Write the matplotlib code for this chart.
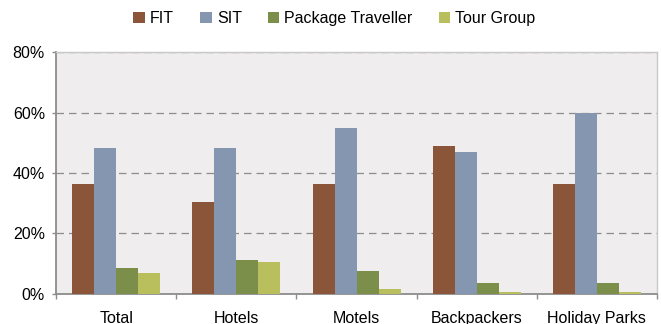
import numpy as np
import matplotlib as mpl
import matplotlib.pyplot as plt
from matplotlib.patches import Patch

mpl.rcParams['font.family'] = ['Liberation Sans', 'DejaVu Sans']

# share of guest nights by travel type, per accommodation type
categories = ['Total', 'Hotels', 'Motels', 'Backpackers', 'Holiday Parks']
fit = [36.4, 30.4, 36.4, 48.9, 36.4]
sit = [48.3, 48.3, 54.9, 46.9, 59.8]
package = [8.7, 11.2, 7.6, 3.6, 3.6]
tour = [7.0, 10.6, 1.6, 0.6, 0.6]

series = ['FIT', 'SIT', 'Package Traveller', 'Tour Group']
values = [fit, sit, package, tour]
colors = ['#8B553A', '#8496B0', '#7B8F4B', '#B8BF5C']

fig = plt.figure(figsize=(6.61, 3.24), dpi=100)
ax = fig.add_axes([0.0847, 0.0926, 0.9093, 0.7469])
ax.set_facecolor('#EFEDEE')

x = np.arange(len(categories))
w = 0.183
for i, (vals, col) in enumerate(zip(values, colors)):
    ax.bar(x + (i - 1.5) * w, vals, w, color=col, zorder=3)

ax.set_xlim(-0.5, len(categories) - 0.5)
ax.set_ylim(0, 80)
ax.set_yticks([0, 20, 40, 60, 80])
ax.set_yticklabels(['0%', '20%', '40%', '60%', '80%'])
ax.yaxis.grid(True, linestyle=(0, (6, 4)), color='#8C8C8C', linewidth=0.9, zorder=1)

ax.set_xticks(x)
ax.set_xticklabels(categories)
ax.set_xticks(np.arange(-0.5, len(categories) - 0.4, 1), minor=True)
ax.tick_params(axis='x', which='major', length=0, pad=12, labelsize=11.5, colors='black')
ax.tick_params(axis='x', which='minor', length=3.5, width=1, color='#8C8C8C', direction='out')
ax.tick_params(axis='y', length=3, width=1, color='#8C8C8C', pad=5, labelsize=11.5)

for side in ['left', 'bottom']:
    ax.spines[side].set_color('#8C8C8C')
    ax.spines[side].set_linewidth(1.3)
for side in ['top', 'right']:
    ax.spines[side].set_color('#C8C8C8')
    ax.spines[side].set_linewidth(1)

handles = [Patch(facecolor=c, edgecolor='none') for c in colors]
fig.legend(handles, series, loc='center', bbox_to_anchor=(0.506, 0.943), ncol=4,
           frameon=False, fontsize=11.5, handlelength=0.72, handleheight=0.72,
           handletextpad=0.33, columnspacing=1.62)

fig.savefig('out.png', dpi=100)
plt.close()
